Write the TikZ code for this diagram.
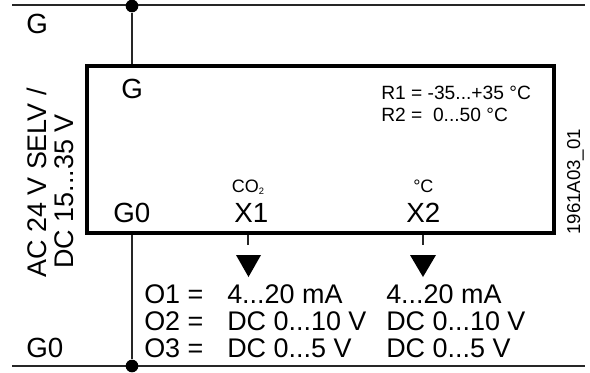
\documentclass[tikz,border=0pt]{standalone}
\usepackage{fontspec}
\setmainfont{Liberation Sans}
\begin{document}
\begin{tikzpicture}[x=0.75pt, y=-0.75pt,
		biglabel/.style={anchor=base west, inner sep=0pt, font=\fontsize{20.2}{24}\selectfont},
		termlabel/.style={anchor=base west, inner sep=0pt, font=\fontsize{20.8}{24}\selectfont},
		smalllabel/.style={anchor=base west, inner sep=0pt, font=\fontsize{14.4}{18}\selectfont},
		tinylabel/.style={anchor=base west, inner sep=0pt, font=\fontsize{13.5}{15}\selectfont},
		junction/.style={circle, fill=black, inner sep=0pt, minimum size=9.5pt},
		wire/.style={line width=1.1pt, color=black!85},
		devicebox/.style={draw, line width=3pt, inner sep=0pt, minimum width=350.25pt, minimum height=125.25pt}]
		%%%%% START %%%%%
		\useasboundingbox (0, 0) rectangle (590, 372);
		
		% supply rails
		\coordinate (gleft) at (12, 5);
		\coordinate (gright) at (585, 5);
		\coordinate (gzleft) at (12, 366);
		\coordinate (gzright) at (585, 366);
		\draw[wire] (gleft) -- (gright);
		\draw[wire] (gzleft) -- (gzright);
		
		\node[devicebox] (device) at (320.5, 149.5) {};
		\node[junction] (gdot) at (132, 6) {};
		\node[junction] (gzdot) at (132, 366) {};
		\draw[wire] (gdot) -- (gdot |- device.north);
		\draw[wire] (gdot |- device.south) -- (gzdot);
		
		% outputs
		\coordinate (xa) at (248, 245);
		\coordinate (xb) at (423, 245);
		\draw[wire] (xa |- device.south) -- (xa);
		\draw[wire] (xb |- device.south) -- (xb);
		\fill (236, 255) -- (261, 255) -- (248.5, 277) -- cycle;
		\fill (410, 255) -- (436, 255) -- (423, 277) -- cycle;
		
		% terminals
		\node[termlabel] (gtop) at (26, 33) {G};
		\node[termlabel] (gzbot) at (26, 357) {G0};
		\node[termlabel] (gin) at (121, 98) {G};
		\node[termlabel] (gzin) at (113, 222) {G0};
		\node[termlabel] (xone) at (234, 222) {X1};
		\node[termlabel] (xtwo) at (406, 222) {X2};
		\node[tinylabel] (cotwo) at (231.5, 192) {CO\raisebox{-2pt}{\fontsize{7}{8}\selectfont 2}};
		\node[tinylabel] (degc) at (413, 192) {°C};
		
		\node[smalllabel] (rone) at (381, 99) {R1 = -35...+35 °C};
		\node[smalllabel] (rtwo) at (381, 121) {R2 =\ \ 0...50 °C};
		
		% supply text
		\node[biglabel, rotate=90] (supa) at (46, 278) {AC 24 V SELV /};
		\node[biglabel, rotate=90] (supb) at (73, 269) {DC 15...35 V};
		\node[smalllabel, rotate=90, font=\fontsize{14}{16}\selectfont] (docno) at (580, 235) {1961A03\_01};
		
		% output table
		\node[biglabel] (oa) at (144, 303) {O1 =};
		\node[biglabel] (ob) at (144, 330) {O2 =};
		\node[biglabel] (oc) at (144, 357) {O3 =};
		\node[biglabel] (oaa) at (227, 303) {4...20 mA};
		\node[biglabel] (oba) at (227, 330) {DC 0...10 V};
		\node[biglabel] (oca) at (227, 357) {DC 0...5 V};
		\node[biglabel] (oab) at (386, 303) {4...20 mA};
		\node[biglabel] (obb) at (386, 330) {DC 0...10 V};
		\node[biglabel] (ocb) at (386, 357) {DC 0...5 V};
		%%%%% END %%%%%
	\end{tikzpicture}
\end{document}
